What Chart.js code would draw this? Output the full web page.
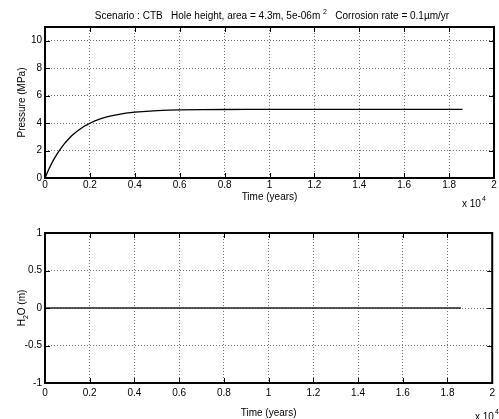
<!DOCTYPE html>
<html>
<head>
<meta charset="utf-8">
<script src="https://cdn.jsdelivr.net/npm/chart.js@4/dist/chart.umd.min.js"></script>
<style>
  html, body { margin: 0; padding: 0; background: #fff; width: 499px; height: 419px; overflow: hidden; }
  canvas { position: absolute; left: 0; }
  #pressureCanvas { top: 0; }
  #waterCanvas { top: 210px; }
</style>
</head>
<body>
<canvas id="pressureCanvas" width="499" height="210"></canvas>
<canvas id="waterCanvas" width="499" height="209"></canvas>
<script>
// Time in years, pressure in MPa
const timeYears = [0, 100, 200, 300, 400, 500, 600, 700, 800, 900, 1000, 1200, 1400, 1600, 1800,
  2000, 2200, 2400, 2600, 2800, 3000, 3300, 3600, 4000, 4500, 5000, 5500, 6000, 7000, 8000,
  9000, 10000, 12000, 14000, 16000, 18600];
const pressureMPa = [0, 0.38, 0.74, 1.07, 1.37, 1.65, 1.91, 2.14, 2.36, 2.57, 2.75, 3.09, 3.37, 3.61, 3.82,
  3.99, 4.14, 4.27, 4.38, 4.47, 4.55, 4.64, 4.72, 4.80, 4.86, 4.91, 4.94, 4.96, 4.98, 4.99,
  5.0, 5.0, 5.0, 5.0, 5.0, 5.0];

// Water level H2O (m)
const waterTime = [0, 4000, 8000, 12000, 16000, 18600];
const waterLevel = [0, 0, 0, 0, 0, 0];

// Axis ticks
const xTicks = [0, 2000, 4000, 6000, 8000, 10000, 12000, 14000, 16000, 18000, 20000];
const xTickLabels = ['0', '0.2', '0.4', '0.6', '0.8', '1', '1.2', '1.4', '1.6', '1.8', '2'];
const pressureTicks = [0, 2, 4, 6, 8, 10];
const pressureTickLabels = ['0', '2', '4', '6', '8', '10'];
const waterTicks = [-1, -0.5, 0, 0.5, 1];
const waterTickLabels = ['-1', '-0.5', '0', '0.5', '1'];

const FONT = "'Liberation Sans', Arial, Helvetica, sans-serif";
Chart.defaults.font.family = FONT;
Chart.defaults.font.size = 10;
Chart.defaults.color = '#000';

// Axes box with inward tick marks on all four sides
const boxPlugin = {
  id: 'matlabBox',
  afterDatasetsDraw(chart) {
    const { ctx, chartArea: a, scales } = chart;
    ctx.save();
    ctx.strokeStyle = '#000';
    ctx.lineWidth = 1;
    const len = 5;
    ctx.beginPath();
    scales.x.ticks.forEach(t => {
      const px = Math.round(scales.x.getPixelForValue(t.value)) + 0.5;
      ctx.moveTo(px, a.bottom); ctx.lineTo(px, a.bottom - len);
      ctx.moveTo(px, a.top); ctx.lineTo(px, a.top + len);
    });
    scales.y.ticks.forEach(t => {
      const py = Math.round(scales.y.getPixelForValue(t.value)) + 0.5;
      ctx.moveTo(a.left, py); ctx.lineTo(a.left + len, py);
      ctx.moveTo(a.right, py); ctx.lineTo(a.right - len, py);
    });
    ctx.stroke();
    ctx.lineWidth = 2;
    ctx.strokeRect(a.left, a.top, a.right - a.left, a.bottom - a.top);
    ctx.restore();
  }
};

// Scale-factor note under the x axis: "x 10^4"
function drawExponent(ctx, x, y) {
  ctx.save();
  ctx.fillStyle = '#000';
  ctx.textBaseline = 'alphabetic';
  ctx.textAlign = 'left';
  ctx.font = '10px ' + FONT;
  ctx.fillText('x 10', x, y);
  const w = ctx.measureText('x 10').width;
  ctx.font = '7px ' + FONT;
  ctx.fillText('4', x + w + 1, y - 6);
  ctx.restore();
}

function makeChart(canvas, xs, ys, cfg) {
  return new Chart(canvas, {
    type: 'line',
    data: {
      datasets: [{
        data: xs.map((x, i) => ({ x: x, y: ys[i] })),
        borderColor: cfg.lineColor,
        borderWidth: cfg.lineWidth,
        pointRadius: 0,
        tension: 0,
        fill: false
      }]
    },
    options: {
      responsive: false,
      devicePixelRatio: 1,
      animation: false,
      events: [],
      layout: { padding: { left: 0, right: 5, top: cfg.padTop, bottom: 0 } },
      plugins: { legend: { display: false }, tooltip: { enabled: false }, title: { display: false } },
      scales: {
        x: {
          type: 'linear',
          min: 0, max: 20000,
          afterBuildTicks: s => { s.ticks = xTicks.map(v => ({ value: v })); },
          afterFit: s => { s.height = cfg.xAxisHeight; },
          ticks: {
            autoSkip: false, maxRotation: 0, padding: cfg.xTickPad,
            callback: (v, i) => xTickLabels[i]
          },
          grid: { color: 'rgba(0,0,0,0.55)', lineWidth: 1, drawTicks: false },
          border: { display: false, dash: [1, 2] },
          title: { display: true, text: 'Time (years)', padding: { top: 0, bottom: cfg.xTitlePad } }
        },
        y: {
          type: 'linear',
          min: cfg.yMin, max: cfg.yMax,
          afterBuildTicks: s => { s.ticks = cfg.yTicks.map(v => ({ value: v })); },
          afterFit: s => { s.width = 45; },
          ticks: { padding: 3, callback: (v, i) => cfg.yLabels[i] },
          grid: { color: 'rgba(0,0,0,0.55)', lineWidth: 1, drawTicks: false },
          border: { display: false, dash: [1, 2] },
          title: { display: !!cfg.yTitle, text: cfg.yTitle || '', padding: { top: 16, bottom: 0 } }
        }
      }
    },
    plugins: [boxPlugin, { id: 'extraText', afterDraw: cfg.afterDraw }]
  });
}

makeChart(document.getElementById('pressureCanvas'), timeYears, pressureMPa, {
  padTop: 27, xAxisHeight: 32, xTickPad: 1, xTitlePad: 7,
  yMin: 0, yMax: 11, yTicks: pressureTicks, yLabels: pressureTickLabels,
  yTitle: 'Pressure (MPa)', lineColor: '#000', lineWidth: 1.3,
  afterDraw(chart) {
    const ctx = chart.ctx;
    // Title with superscript
    const s1 = 'Scenario : CTB   Hole height, area = 4.3m, 5e-06m ';
    const sup = '2';
    const s3 = '   Corrosion rate = 0.1\u00b5m/yr';
    ctx.save();
    ctx.fillStyle = '#000';
    ctx.textBaseline = 'alphabetic';
    ctx.textAlign = 'left';
    ctx.font = '10px ' + FONT;
    const w1 = ctx.measureText(s1).width;
    const w3 = ctx.measureText(s3).width;
    ctx.font = '7px ' + FONT;
    const w2 = ctx.measureText(sup).width;
    const total = w1 + w2 + w3;
    let x = 272 - total / 2;
    const y = 19;
    ctx.font = '10px ' + FONT;
    ctx.fillText(s1, x, y);
    ctx.font = '7px ' + FONT;
    ctx.fillText(sup, x + w1, y - 5);
    ctx.font = '10px ' + FONT;
    ctx.fillText(s3, x + w1 + w2, y);
    ctx.restore();
    drawExponent(ctx, 462, 207);
  }
});

makeChart(document.getElementById('waterCanvas'), waterTime, waterLevel, {
  padTop: 23, xAxisHeight: 36, xTickPad: 4, xTitlePad: 0,
  yMin: -1, yMax: 1, yTicks: waterTicks, yLabels: waterTickLabels,
  yTitle: '', lineColor: '#222', lineWidth: 1.5,
  afterDraw(chart) {
    const ctx = chart.ctx;
    const a = chart.chartArea;
    // Rotated y-axis label with subscript: H2O (m)
    ctx.save();
    ctx.translate(22, (a.top + a.bottom) / 2);
    ctx.rotate(-Math.PI / 2);
    ctx.fillStyle = '#000';
    ctx.textBaseline = 'middle';
    ctx.textAlign = 'left';
    ctx.font = '10px ' + FONT;
    const wH = ctx.measureText('H').width;
    const wRest = ctx.measureText('O (m)').width;
    ctx.font = '7px ' + FONT;
    const wSub = ctx.measureText('2').width;
    const total = wH + wSub + wRest;
    let x = -total / 2;
    ctx.font = '10px ' + FONT;
    ctx.fillText('H', x, 0);
    ctx.font = '7px ' + FONT;
    ctx.fillText('2', x + wH, 4);
    ctx.font = '10px ' + FONT;
    ctx.fillText('O (m)', x + wH + wSub, 0);
    ctx.restore();
    drawExponent(ctx, 475, 210);
  }
});
</script>
</body>
</html>
